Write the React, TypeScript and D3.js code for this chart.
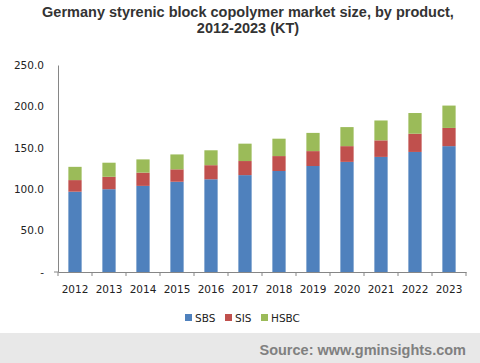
import * as d3 from "d3";
import { useEffect, useRef } from "react";

const years = ["2012", "2013", "2014", "2015", "2016", "2017", "2018", "2019", "2020", "2021", "2022", "2023"];
const sbs = [97, 100, 104, 109, 112, 117, 122, 128, 133, 139, 145, 152];
const sis = [14, 15, 16, 15, 17, 17, 18, 18, 19, 20, 22, 22];
const hsbc = [16, 17, 16, 18, 18, 21, 21, 22, 23, 24, 25, 27];
const seriesNames = ["SBS", "SIS", "HSBC"];
const colors = ["#4F81BD", "#C0504D", "#9BBB59"];
const yTicks = [0, 50, 100, 150, 200, 250];

export default function App() {
  const ref = useRef<SVGSVGElement>(null);
  const width = 480;
  const height = 363;
  const margin = { top: 65, right: 14, bottom: 91, left: 58 };

  useEffect(() => {
    const svg = d3.select(ref.current);
    svg.selectAll("*").remove();

    const rows = years.map((y, i) => ({ year: y, SBS: sbs[i], SIS: sis[i], HSBC: hsbc[i] }));
    const stack = d3.stack<any>().keys(seriesNames)(rows);

    const x = d3.scaleBand().domain(years).range([margin.left, width - margin.right]).paddingInner(0.61).paddingOuter(0.305);
    const y = d3.scaleLinear().domain([0, 250]).range([height - margin.bottom, margin.top]);

    svg.append("rect").attr("width", width).attr("height", height).attr("fill", "#fff");

    // title
    const title = svg.append("text")
      .attr("text-anchor", "middle")
      .attr("font-family", "Liberation Sans, Arial, sans-serif")
      .attr("font-weight", "bold")
      .attr("font-size", 14.5)
      .attr("fill", "#333");
    title.append("tspan").attr("x", 248).attr("y", 17).text("Germany styrenic block copolymer market size, by product,");
    title.append("tspan").attr("x", 248).attr("y", 33).text("2012-2023 (KT)");

    // bars
    svg.append("g")
      .selectAll("g")
      .data(stack)
      .join("g")
      .attr("fill", (_d, i) => colors[i])
      .selectAll("rect")
      .data(d => d)
      .join("rect")
      .attr("x", d => x(d.data.year)!)
      .attr("width", x.bandwidth())
      .attr("y", d => y(d[1]))
      .attr("height", d => y(d[0]) - y(d[1]));

    const axisColor = "#868686";
    const fontFam = "DejaVu Sans, Verdana, sans-serif";

    // y axis
    const yAxis = svg.append("g")
      .attr("transform", `translate(${margin.left},0)`)
      .call(d3.axisLeft(y).tickValues(yTicks).tickSize(0).tickPadding(14)
        .tickFormat(d => (d === 0 ? "-" : d3.format(".1f")(d as number))));
    yAxis.select(".domain").attr("stroke", axisColor);
    yAxis.selectAll("text").attr("font-family", fontFam).attr("font-size", 10.5).attr("fill", "#222");
    svg.append("line")
      .attr("x1", margin.left - 4).attr("x2", margin.left)
      .attr("y1", y(0)).attr("y2", y(0)).attr("stroke", axisColor);

    // x axis
    const xAxis = svg.append("g")
      .attr("transform", `translate(0,${y(0)})`)
      .call(d3.axisBottom(x).tickSize(0).tickPadding(14));
    xAxis.select(".domain").attr("stroke", axisColor);
    xAxis.selectAll("text").attr("font-family", fontFam).attr("font-size", 10.5).attr("fill", "#222");
    const step = x.step();
    svg.append("g")
      .selectAll("line")
      .data(d3.range(years.length + 1))
      .join("line")
      .attr("x1", i => margin.left + i * step)
      .attr("x2", i => margin.left + i * step)
      .attr("y1", y(0))
      .attr("y2", y(0) + 4)
      .attr("stroke", axisColor);

    // legend
    const legendX = [185, 225, 261];
    const lg = svg.append("g")
      .selectAll("g")
      .data(seriesNames)
      .join("g")
      .attr("transform", (_d, i) => `translate(${legendX[i]},314)`);
    lg.append("rect").attr("width", 7).attr("height", 7).attr("fill", (_d, i) => colors[i]);
    lg.append("text")
      .attr("x", 10).attr("y", 7.5)
      .attr("font-family", fontFam).attr("font-size", 10.5).attr("fill", "#222")
      .text(d => d);

    // source footer
    svg.append("rect").attr("x", 0).attr("y", 333).attr("width", width).attr("height", 30).attr("fill", "#e8e8e8");
    svg.append("text")
      .attr("x", 466).attr("y", 355)
      .attr("text-anchor", "end")
      .attr("font-family", "Liberation Sans, Arial, sans-serif")
      .attr("font-weight", "bold")
      .attr("font-size", 14.5)
      .attr("fill", "#808080")
      .text("Source: www.gminsights.com");
  }, []);

  return (
    <div style={{ position: "absolute", left: 0, top: 0 }}>
      <svg ref={ref} width={width} height={height} style={{ display: "block" }} />
    </div>
  );
}
